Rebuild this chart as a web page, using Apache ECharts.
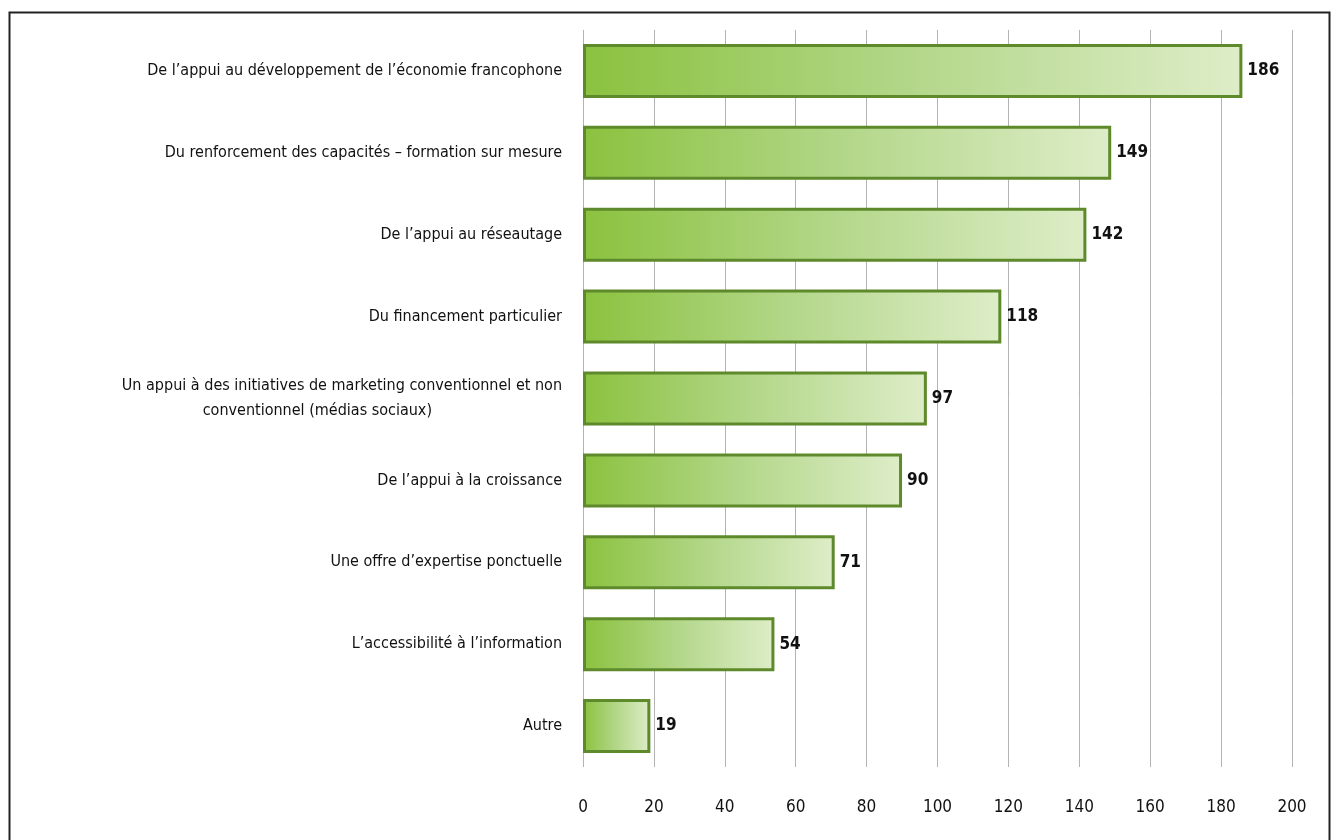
<!DOCTYPE html>
<html><head><meta charset="utf-8">
<script src="https://cdn.jsdelivr.net/npm/echarts@6/dist/echarts.min.js"></script>
<style>html,body{margin:0;padding:0;background:#fff}#c{width:1332px;height:840px}</style>
</head><body><div id="c"></div>
<script>
const categories = [
  "De l\u2019appui au développement de l\u2019économie francophone",
  "Du renforcement des capacités \u2013 formation sur mesure",
  "De l\u2019appui au réseautage",
  "Du financement particulier",
  "Un appui à des initiatives de marketing conventionnel et non\nconventionnel (médias sociaux)",
  "De l\u2019appui à la croissance",
  "Une offre d\u2019expertise ponctuelle",
  "L\u2019accessibilité à l\u2019information",
  "Autre"
];
const values = [186, 149, 142, 118, 97, 90, 71, 54, 19];
const xTicks = [0, 20, 40, 60, 80, 100, 120, 140, 160, 180, 200];

const FONT = "'Liberation Sans Narrow', 'DejaVu Sans Condensed', 'Arial Narrow', sans-serif";
const chart = echarts.init(document.getElementById('c'), null, {renderer: 'canvas'});
chart.setOption({
  animation: false,
  backgroundColor: '#fff',
  graphic: [{
    type: 'rect', left: 7, top: 10, silent: true,
    shape: {width: 1320, height: 840},
    style: {fill: 'none', stroke: '#222', lineWidth: 2}
  }],
  grid: {left: 583, right: 40, top: 30, bottom: 73},
  xAxis: {
    type: 'value', min: xTicks[0], max: xTicks[xTicks.length - 1], interval: 20,
    axisLine: {show: false}, axisTick: {show: false},
    splitLine: {lineStyle: {color: '#b3b3b3', width: 1}},
    axisLabel: {fontFamily: FONT, fontSize: 17, color: '#111', margin: 32}
  },
  yAxis: {
    type: 'category', inverse: true, data: categories,
    axisLine: {show: false}, axisTick: {show: false},
    axisLabel: {
      fontFamily: FONT, fontSize: 16, color: '#111', margin: 21, lineHeight: 25,
      formatter: function (v) {
        const parts = v.split('\n');
        if (parts.length === 1) return v;
        return '{a|' + parts[0] + '}\n{b|' + parts[1] + '}';
      },
      rich: {
        a: {fontFamily: FONT, fontSize: 16, color: '#111', lineHeight: 25},
        b: {fontFamily: FONT, fontSize: 16, color: '#111', lineHeight: 25, padding: [0, 130, 0, 0]}
      }
    }
  },
  series: [{
    type: 'bar', data: values, barWidth: 54,
    itemStyle: {
      color: new echarts.graphic.LinearGradient(0, 0, 1, 0, [
        {offset: 0, color: '#8bc23f'},
        {offset: 0.5, color: '#b3d78a'},
        {offset: 1, color: '#deedc8'}
      ]),
      borderColor: '#5e8a2c', borderWidth: 3
    },
    label: {
      show: true, position: 'right', distance: 5,
      fontFamily: FONT, fontSize: 17, fontWeight: 'bold', color: '#111'
    }
  }]
});
</script></body></html>
